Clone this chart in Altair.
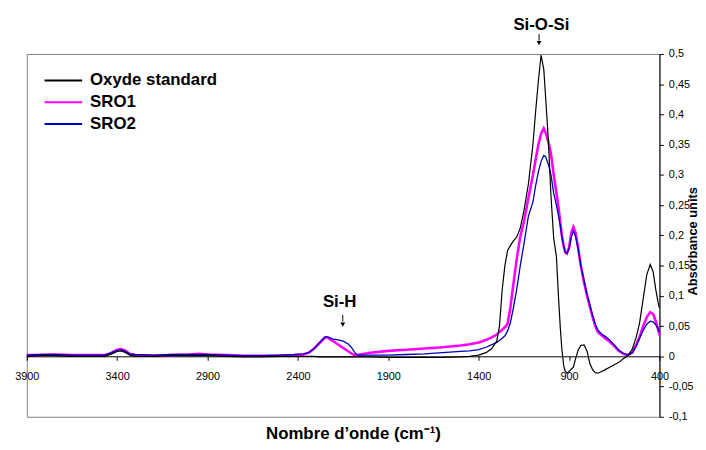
import altair as alt
import pandas as pd

# ---------------- data ----------------
wavenumber = [3900, 3820, 3750, 3650, 3550, 3470, 3430, 3400, 3380, 3360, 3330, 3300,
              3200, 3100, 3000, 2950, 2900, 2800, 2700, 2600, 2500, 2420, 2370, 2340,
              2310, 2280, 2250, 2235, 2210, 2180, 2150, 2120, 2100, 2085, 2070, 2040,
              2000, 1900, 1800, 1700, 1600, 1500, 1450, 1400, 1360, 1330, 1300, 1285,
              1270, 1255, 1240, 1225, 1210, 1190, 1170, 1150, 1125, 1100, 1085, 1070,
              1055, 1040, 1030, 1015, 1000, 985, 970, 958, 948, 940, 930, 921,
              912, 900, 887, 876, 865, 850, 835, 817, 800, 785, 770, 755,
              740, 720, 700, 675, 650, 625, 600, 575, 550, 530, 510, 490,
              470, 451, 435, 420, 405, 400]

oxyde_standard = [0.000, 0.001, 0.001, 0.000, 0.000, 0.000, 0.004, 0.008, 0.009, 0.007, 0.002, 0.000,
                  0.000, 0.001, 0.001, 0.001, 0.001, 0.000, -0.001, -0.001, 0.000, 0.000, 0.000, 0.000,
                  0.000, -0.001, -0.001, -0.001, -0.001, -0.001, -0.001, -0.001, -0.001, -0.001, -0.001, -0.001,
                  -0.001, -0.002, -0.002, -0.002, -0.002, -0.001, 0.000, 0.002, 0.006, 0.012, 0.025, 0.050,
                  0.110, 0.150, 0.175, 0.183, 0.190, 0.197, 0.212, 0.240, 0.285, 0.350, 0.405, 0.455,
                  0.498, 0.475, 0.430, 0.360, 0.265, 0.195, 0.165, 0.095, 0.045, 0.012, -0.015, -0.025,
                  -0.028, -0.025, -0.021, -0.018, -0.005, 0.010, 0.018, 0.019, 0.008, -0.012, -0.022, -0.027,
                  -0.028, -0.025, -0.022, -0.018, -0.014, -0.010, -0.004, 0.001, 0.012, 0.030, 0.055, 0.095,
                  0.135, 0.152, 0.140, 0.110, 0.085, 0.080]

sro1 = [0.002, 0.002, 0.003, 0.002, 0.002, 0.002, 0.006, 0.011, 0.012, 0.010, 0.004, 0.002,
        0.001, 0.002, 0.003, 0.004, 0.003, 0.002, 0.001, 0.001, 0.001, 0.002, 0.003, 0.006,
        0.013, 0.022, 0.031, 0.031, 0.026, 0.020, 0.014, 0.008, 0.004, 0.002, 0.002, 0.004,
        0.006, 0.009, 0.011, 0.013, 0.015, 0.018, 0.020, 0.023, 0.027, 0.031, 0.036, 0.040,
        0.044, 0.048, 0.054, 0.080, 0.115, 0.160, 0.198, 0.222, 0.262, 0.300, 0.325, 0.350,
        0.368, 0.377, 0.370, 0.355, 0.335, 0.300, 0.270, 0.245, 0.220, 0.200, 0.183, 0.172,
        0.170, 0.180, 0.205, 0.214, 0.205, 0.180, 0.150, 0.122, 0.100, 0.082, 0.065, 0.050,
        0.040, 0.035, 0.030, 0.024, 0.017, 0.009, 0.004, 0.002, 0.006, 0.018, 0.032, 0.050,
        0.065, 0.073, 0.070, 0.058, 0.042, 0.035]

sro2 = [0.002, 0.003, 0.003, 0.002, 0.002, 0.002, 0.006, 0.010, 0.011, 0.009, 0.004, 0.003,
        0.002, 0.003, 0.003, 0.003, 0.003, 0.002, 0.001, 0.001, 0.002, 0.003, 0.004, 0.006,
        0.013, 0.023, 0.032, 0.032, 0.029, 0.027, 0.025, 0.020, 0.013, 0.006, 0.002, 0.002,
        0.002, 0.002, 0.003, 0.004, 0.006, 0.008, 0.009, 0.011, 0.015, 0.019, 0.023, 0.026,
        0.030, 0.034, 0.042, 0.055, 0.077, 0.110, 0.150, 0.185, 0.232, 0.255, 0.282, 0.305,
        0.322, 0.332, 0.330, 0.318, 0.300, 0.270, 0.250, 0.232, 0.215, 0.198, 0.183, 0.172,
        0.170, 0.178, 0.198, 0.207, 0.200, 0.178, 0.150, 0.125, 0.102, 0.085, 0.068, 0.053,
        0.043, 0.037, 0.033, 0.027, 0.019, 0.010, 0.005, 0.002, 0.006, 0.016, 0.030, 0.043,
        0.053, 0.058, 0.057, 0.052, 0.044, 0.040]

series_names = ["Oxyde standard", "SRO1", "SRO2"]
series_colors = ["#000000", "#ff00ff", "#0000b4"]
series_widths = {"Oxyde standard": 1.2, "SRO1": 2.6, "SRO2": 1.3}

x_ticks = [3900, 3400, 2900, 2400, 1900, 1400, 900, 400]
y_ticks = [-0.1, -0.05, 0, 0.05, 0.1, 0.15, 0.2, 0.25, 0.3, 0.35, 0.4, 0.45, 0.5]

ann_labels = ["Si-O-Si", "Si-H"]
ann_label_wn = [1053, 2169]
ann_label_y = [0.540, 0.0817]
arrow_wn = [1066, 2152]
arrow_top = [0.533, 0.0686]
arrow_bottom = [0.522, 0.0575]
arrow_head = [0.518, 0.0525]

# ---------------- tables ----------------
series_values = {"Oxyde standard": oxyde_standard, "SRO1": sro1, "SRO2": sro2}
series_df = {
    name: pd.DataFrame({"wn": wavenumber, "abs": vals, "serie": name})
    for name, vals in series_values.items()
}

ann_text_df = pd.DataFrame({"wn": ann_label_wn, "abs": ann_label_y, "label": ann_labels})
ann_rule_df = pd.DataFrame({"wn": arrow_wn, "abs": arrow_top, "abs2": arrow_bottom})
ann_head_df = pd.DataFrame({"wn": arrow_wn, "abs": arrow_head})

FONT = "Liberation Sans"
xs = alt.Scale(domain=[400, 3900], reverse=True, nice=False, zero=False)
ys = alt.Scale(domain=[-0.1, 0.5], nice=False, zero=False)

x_axis = alt.Axis(
    values=x_ticks, orient="bottom", offset=-61.17, grid=False, format="d",
    domainColor="#000000", domainWidth=1, tickColor="#000000", tickSize=4, tickWidth=1,
    labelFont=FONT, labelFontSize=11, labelColor="#000000", labelPadding=10,
    labelFlush=False, labelOverlap=False,
    title="Nombre d’onde (cm⁻¹)", titleFont=FONT, titleFontSize=17, titleFontWeight="bold",
    titleColor="#000000", titleX=330, titleY=83, titleBaseline="alphabetic", titleAlign="center",
)
y_axis = alt.Axis(
    values=y_ticks, orient="right", grid=False, tickCount=13,
    domainColor="#000000", domainWidth=1, tickColor="#000000", tickSize=4, tickWidth=1,
    labelFont=FONT, labelFontSize=11, labelColor="#000000", labelPadding=5,
    labelExpr="replace('' + datum.value, '.', ',')", labelOverlap=False, labelFlush=False,
    title="Absorbance units", titleFont=FONT, titleFontSize=13, titleFontWeight="bold",
    titleColor="#000000", titleAngle=270, titleX=37, titleY=189,
    titleBaseline="alphabetic", titleAlign="center",
)

color_enc = alt.Color(
    "serie:N",
    scale=alt.Scale(domain=series_names, range=series_colors),
    legend=alt.Legend(
        orient="none", legendX=17, legendY=16, title=None,
        symbolType="stroke", symbolSize=1444, symbolStrokeWidth=2,
        labelFont=FONT, labelFontSize=17, labelFontWeight="bold", labelColor="#000000",
        labelOffset=7, rowPadding=0, padding=0, clipHeight=21.7,
    ),
)


def line_layer(name):
    return alt.Chart(series_df[name]).mark_line(
        interpolate="linear", strokeWidth=series_widths[name]
    ).encode(
        x=alt.X("wn:Q", scale=xs, axis=x_axis),
        y=alt.Y("abs:Q", scale=ys, axis=y_axis),
        color=color_enc,
    )


texts = alt.Chart(ann_text_df).mark_text(
    font=FONT, fontSize=17, fontWeight="bold", color="#000000",
    baseline="alphabetic", align="center",
).encode(
    x=alt.X("wn:Q", scale=xs, axis=x_axis),
    y=alt.Y("abs:Q", scale=ys, axis=y_axis),
    text="label:N",
)

rules = alt.Chart(ann_rule_df).mark_rule(color="#000000", strokeWidth=1).encode(
    x=alt.X("wn:Q", scale=xs, axis=x_axis),
    y=alt.Y("abs:Q", scale=ys, axis=y_axis),
    y2="abs2:Q",
)

heads = alt.Chart(ann_head_df).mark_point(
    shape="triangle-down", filled=True, size=24, color="#000000", opacity=1
).encode(
    x=alt.X("wn:Q", scale=xs, axis=x_axis),
    y=alt.Y("abs:Q", scale=ys, axis=y_axis),
)

chart = alt.layer(
    line_layer("SRO1"), line_layer("SRO2"), line_layer("Oxyde standard"),
    texts, rules, heads,
).properties(
    width=640, height=367,
    padding={"left": 19, "top": 44, "right": 39, "bottom": 23},
    autosize=alt.AutoSizeParams(type="none"),
    background="#ffffff",
).configure_view(stroke="#808080", strokeWidth=1)

chart.save("out.html", embed_options={"renderer": "svg", "actions": False})
